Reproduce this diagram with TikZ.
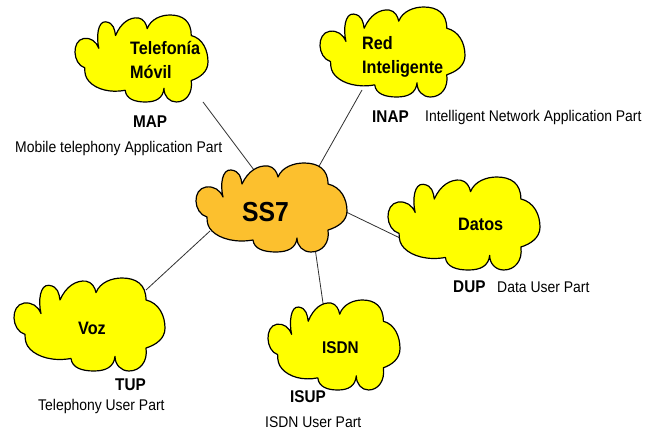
\documentclass[tikz,border=0pt]{standalone}
\usepackage{fontspec}
\setmainfont{Liberation Sans}[FakeStretch=0.9]
\definecolor{cloudyellow}{HTML}{FFFF00}
\definecolor{cloudorange}{HTML}{FCC02E}
\definecolor{linkgray}{HTML}{303030}

% One puffy cloud outline, drawn in a 151 x 89 box (y grows downwards)
\newcommand{\puffcloud}{%
  (11,54) .. controls (-3,50) and (-4,26) .. (10,24)
          .. controls (18,23) and (24,27) .. (27,34)
          .. controls (24,22) and (26,6) .. (35,7)
          .. controls (44,8) and (45,15) .. (46,21)
          .. controls (52,8) and (62,2) .. (72,3)
          .. controls (78,4) and (81,9) .. (82,14)
          .. controls (86,4) and (98,0) .. (108,0)
          .. controls (122,0) and (132,6) .. (132,21)
          .. controls (145,24) and (151,36) .. (151,48)
          .. controls (151,58) and (142,64) .. (132,67)
          .. controls (134,80) and (126,89) .. (115,89)
          .. controls (107,89) and (101,83) .. (101,75)
          .. controls (100,85) and (92,89) .. (80,89)
          .. controls (68,89) and (58,86) .. (57,77)
          .. controls (40,80) and (24,76) .. (16,68)
          .. controls (12,64) and (11,60) .. (11,54) -- cycle}
% \drawpuff{left}{top}{width}{height}{fill colour}
\newcommand{\drawpuff}[5]{%
  \begin{scope}[shift={(#1,#2)}, xscale=#3/151, yscale=#4/89]
    \filldraw[cloudshape, fill=#5] \puffcloud;
  \end{scope}}

\begin{document}
\begin{tikzpicture}[x=1pt, y=-1pt,
    cloudshape/.style={draw=black, line width=1.2pt, line join=round},
    link/.style={draw=linkgray, line width=0.8pt},
    cloudtext/.style={anchor=base west, inner sep=0pt, font=\bfseries\fontsize{18}{20}\selectfont},
    acro/.style={anchor=base west, inner sep=0pt, font=\bfseries\fontsize{17}{19}\selectfont},
    desc/.style={anchor=base west, inner sep=0pt, font=\fontsize{15.5}{17}\selectfont}]
  \useasboundingbox[fill=white] (0,0) rectangle (646,433);

  % connector end points, tucked just inside the cloud outlines
  \coordinate (movil-end) at (203,102);
  \coordinate (red-end) at (362,90);
  \coordinate (datos-end) at (400,238);
  \coordinate (voz-end) at (146,290);
  \coordinate (isdn-end) at (324,310);
  \coordinate (ss7-nw) at (257,174);
  \coordinate (ss7-ne) at (318,168);
  \coordinate (ss7-e) at (344,211);
  \coordinate (ss7-sw) at (210,231);
  \coordinate (ss7-s) at (315,248);

  \draw[link] (movil-end) -- (ss7-nw);
  \draw[link] (red-end) -- (ss7-ne);
  \draw[link] (datos-end) -- (ss7-e);
  \draw[link] (voz-end) -- (ss7-sw);
  \draw[link] (isdn-end) -- (ss7-s);

  % clouds
  \drawpuff{75}{15}{133}{87}{cloudyellow}
  \drawpuff{320}{7}{145}{90}{cloudyellow}
  \drawpuff{196}{163}{151}{89}{cloudorange}
  \drawpuff{388}{177}{152}{93}{cloudyellow}
  \drawpuff{14}{278}{151}{93}{cloudyellow}
  \drawpuff{268}{300}{132}{90}{cloudyellow}

  % cloud labels
  \node[cloudtext] (movil1) at (130,55) {Telefonía};
  \node[cloudtext] (movil2) at (130,79) {Móvil};
  \node[cloudtext] (red1) at (362,50) {Red};
  \node[cloudtext] (red2) at (362,74) {Inteligente};
  \node[cloudtext, font=\bfseries\fontsize{27.5}{30}\selectfont] (ss7) at (242,222) {SS7};
  \node[cloudtext] (datos) at (458,231) {Datos};
  \node[cloudtext] (voz) at (78,334) {Voz};
  \node[cloudtext, font=\bfseries\fontsize{17}{19}\selectfont] (isdn) at (322,353) {ISDN};

  % protocol names and their meanings
  \node[acro] (map) at (133,128) {MAP};
  \node[desc] (mapdesc) at (15,153) {Mobile telephony Application Part};
  \node[acro] (inap) at (372,123) {INAP};
  \node[desc] (inapdesc) at (425,122) {Intelligent Network Application Part};
  \node[acro] (dup) at (453,292) {DUP};
  \node[desc] (dupdesc) at (497,292) {Data User Part};
  \node[acro] (tup) at (115,390) {TUP};
  \node[desc] (tupdesc) at (38,410) {Telephony User Part};
  \node[acro] (isup) at (290,402) {ISUP};
  \node[desc] (isupdesc) at (265,427) {ISDN User Part};
\end{tikzpicture}
\end{document}
